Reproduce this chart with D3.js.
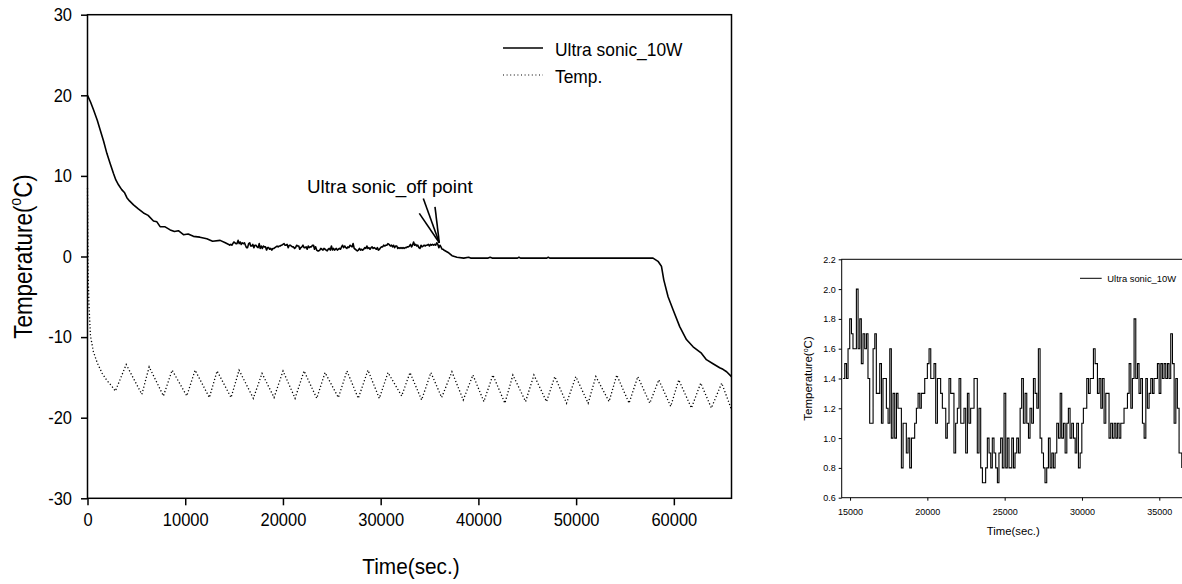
<!DOCTYPE html>
<html>
<head>
<meta charset="utf-8">
<script src="https://cdn.jsdelivr.net/npm/d3@7"></script>
<style>
body { margin: 0 ; background: #fff ; }
text { font-family: Arial, "Liberation Sans", Helvetica, sans-serif ; fill: #000 ; }
</style>
</head>
<body>
<svg id="chart" width="1182" height="584"></svg>
<script>
// ---- main chart, ultrasonic run (solid line), start of run ----
var earlyTime = [0, 300, 614, 1000, 1300, 1650, 1980, 2300, 2660, 2900,
	3170, 3500, 3800, 4030, 4300, 4710, 5200, 5730, 6200, 6750,
	7100, 7430, 7900, 8460, 8900, 9300, 9820, 10300, 10840, 11500,
	12210, 12800, 13570, 14100, 14450] ;
var earlyTemp = [20.0, 19.2, 18.2, 16.9, 15.7, 14.3, 12.8, 11.6, 10.3, 9.5,
	8.9, 8.3, 7.9, 7.3, 6.9, 6.4, 5.9, 5.4, 5.1, 4.4,
	4.3, 3.7, 3.7, 3.3, 3.1, 3.2, 2.7, 2.8, 2.5, 2.4,
	2.2, 1.9, 2.0, 1.7, 1.5] ;

// ---- zoomed window 14500..36500 s (also used inside the main line) ----
var insetTime = [
	14550, 14660, 14770, 14870, 14980, 15090, 15190, 15300, 15410, 15520,
	15630, 15730, 15840, 15950, 16060, 16160, 16270, 16380, 16490, 16600,
	16700, 16810, 16920, 17030, 17130, 17240, 17350, 17460, 17570, 17670,
	17780, 17890, 18000, 18100, 18210, 18320, 18430, 18540, 18640, 18750,
	18860, 18970, 19080, 19180, 19290, 19400, 19510, 19610, 19720, 19830,
	19890, 20000, 20110, 20220, 20320, 20430, 20540, 20650, 20750, 20860,
	20970, 21080, 21190, 21290, 21400, 21510, 21620, 21720, 21830, 21940,
	22050, 22160, 22260, 22370, 22480, 22590, 22690, 22800, 22910, 23020,
	23130, 23230, 23340, 23450, 23560, 23660, 23770, 23880, 23990, 24100,
	24200, 24310, 24420, 24530, 24630, 24740, 24850, 24960, 25070, 25170,
	25280,
	25460, 25570, 25670, 25780, 25890, 26000, 26100, 26210, 26320, 26430,
	26540, 26640, 26750, 26860, 26970, 27080, 27180, 27290, 27400, 27510,
	27610, 27720, 27830, 27940, 28050, 28150, 28260, 28370, 28480, 28590,
	28690, 28800, 28910, 29020, 29120, 29230, 29340, 29450, 29560, 29660,
	29770, 29880, 29990, 30090, 30200, 30310, 30420, 30530, 30630, 30740,
	30850,
	31000, 31110, 31220, 31320, 31430, 31540, 31650, 31750, 31860, 31970,
	32080, 32190, 32290, 32400, 32510, 32620, 32720, 32830, 32940, 33050,
	33160, 33260, 33370, 33480, 33590, 33690, 33800, 33910, 34020, 34130,
	34230, 34340, 34450, 34560, 34660, 34770, 34880, 34990, 35100, 35200,
	35310, 35420, 35530, 35630, 35740, 35850, 35960, 36070, 36170, 36280,
	36390, 36455] ;
var insetTemp = [
	1.4, 1.5, 1.4, 1.6, 1.8, 1.7, 1.6, 1.6, 2.0, 1.6,
	1.8, 1.5, 1.7, 1.6, 1.7, 1.4, 1.1, 1.1, 1.6, 1.7,
	1.3, 1.3, 1.5, 1.1, 1.4, 1.4, 1.2, 1.1, 1.6, 1.0,
	1.3, 1.0, 1.3, 1.2, 1.2, 0.8, 1.1, 1.1, 0.9, 1.0,
	0.8, 1.0, 1.0, 1.1, 1.2, 1.3, 1.2, 1.3, 1.3, 1.4,
	1.4, 1.5, 1.6, 1.4, 1.4, 1.5, 1.1, 1.4, 1.4, 1.3,
	1.2, 1.2, 1.0, 1.1, 1.4, 1.3, 1.3, 0.9, 1.1, 1.2,
	1.4, 1.1, 1.1, 1.2, 0.9, 1.3, 1.1, 1.2, 1.2, 1.4,
	1.4, 0.9, 1.2, 0.8, 0.7, 0.7, 0.8, 1.0, 0.9, 0.8,
	1.0, 0.9, 0.8, 0.7, 0.9, 1.0, 0.8, 1.3, 0.8, 1.0,
	0.8,
	1.0, 0.8, 0.9, 1.0, 0.9, 1.2, 1.4, 1.1, 1.3, 1.1,
	1.0, 1.2, 1.1, 1.4, 1.3, 1.2, 1.6, 1.0, 0.9, 0.8,
	0.7, 0.8, 1.0, 0.8, 0.9, 0.8, 0.9, 1.1, 1.0, 1.3,
	1.0, 1.1, 0.9, 1.1, 1.2, 1.0, 1.1, 1.0, 0.9, 1.1,
	0.8, 0.9, 1.1, 1.2, 1.2, 1.4, 1.3, 1.4, 1.4, 1.6,
	1.5,
	1.3, 1.4, 1.2, 1.4, 1.1, 1.3, 1.3, 1.0, 1.1, 1.0,
	1.1, 1.0, 1.1, 1.0, 1.1, 1.1, 1.2, 1.2, 1.3, 1.5,
	1.2, 1.4, 1.8, 1.4, 1.5, 1.3, 1.4, 1.1, 1.0, 1.4,
	1.2, 1.3, 1.4, 1.3, 1.4, 1.4, 1.5, 1.3, 1.5, 1.4,
	1.5, 1.4, 1.5, 1.4, 1.7, 1.5, 1.1, 1.4, 1.2, 0.9,
	0.9, 0.8] ;

// ---- main chart, after ultrasonic off ----
var lateTime = [36900, 37300, 37800, 38500, 39000, 39200, 41000, 41200, 41400, 44000,
	44150, 44300, 47000, 47150, 47300, 52000, 57870, 58380, 58730, 58970,
	59410, 59920, 60600, 61290, 61970, 62820, 63330, 64010, 64690, 65030,
	65400, 65900] ;
var lateTemp = [0.5, 0.1, -0.1, -0.2, -0.1, -0.2, -0.2, -0.1, -0.2, -0.2,
	-0.1, -0.2, -0.2, -0.1, -0.2, -0.2, -0.2, -0.6, -1.2, -2.9,
	-5.0, -6.6, -8.7, -10.3, -11.2, -12.0, -12.8, -13.3, -13.8, -14.0,
	-14.3, -14.9] ;

// ---- bath temperature (dotted) ----
var tempTime = [0, 60, 150, 300, 600, 1000, 1500, 2000, 2500, 2850,
	3960, 5560, 6310, 7770, 8660, 10160, 11010, 12470, 13260, 14690,
	15510, 16970, 17860, 19090, 20010, 21240, 22160, 23460, 24310, 25670,
	26550, 27710, 28700, 29860, 30750, 32150, 33000, 34190, 35140, 36240,
	37290, 38450, 39440, 40560, 41480, 42710, 43530, 44830, 45680, 46970,
	47820, 49020, 49970, 51230, 52020, 53370, 54160, 55420, 56310, 57540,
	58460, 59680, 60500, 61800, 62750, 63840, 64900, 65900] ;
var tempValue = [8.5, -2, -6, -9.8, -11.8, -13.2, -14.5, -15.4, -16.1, -16.7,
	-13.4, -17.1, -13.7, -17.3, -14.1, -17.3, -14.1, -17.5, -14.2, -17.5,
	-14.1, -17.6, -14.5, -17.5, -14.2, -17.6, -14.2, -17.6, -14.4, -17.5,
	-14.2, -17.6, -14.1, -17.6, -14.4, -17.3, -14.4, -17.8, -14.4, -17.5,
	-14.3, -17.8, -14.7, -18.0, -14.7, -18.2, -14.7, -18.0, -14.7, -18.0,
	-14.9, -18.2, -14.9, -18.2, -14.9, -18.0, -14.7, -18.2, -14.9, -18.2,
	-15.3, -18.6, -15.3, -18.8, -15.7, -18.8, -15.7, -19.0] ;

var mainXTicks = [0, 10000, 20000, 30000, 40000, 50000, 60000] ;
var mainYTicks = [-30, -20, -10, 0, 10, 20, 30] ;
var insetXTicks = [15000, 20000, 25000, 30000, 35000] ;
var insetYTicks = [0.6, 0.8, 1.0, 1.2, 1.4, 1.6, 1.8, 2.0, 2.2] ;
var legendLabels = ['Ultra sonic_10W', 'Temp.'] ;
var offPoint = [36000, 1.7] ;

var svg = d3.select('#chart') ;

function styleTicks(g, size, sy) {
	g.select('.domain').remove() ;
	g.selectAll('.tick line').attr('stroke', '#000') ;
	g.selectAll('.tick text').attr('font-size', size).attr('fill', '#000').attr('transform', 'scale(1,' + sy + ')') ;
}

// ================= main chart =================
var x = d3.scaleLinear().domain([0, 65900]).range([87.5, 731.5]) ;
var y = d3.scaleLinear().domain([-30, 30]).range([498.3, 14.7]) ;

var gx = svg.append('g').attr('transform', 'translate(0,' + y(-30) + ')')
	.call(d3.axisBottom(x).tickValues(mainXTicks).tickSize(7).tickPadding(6.5).tickFormat(function(d) { return String(d) ; })) ;
styleTicks(gx, 16.5, 1.1) ;
gx.selectAll('.tick line').attr('stroke-width', 1.5) ;

var gy = svg.append('g').attr('transform', 'translate(' + x(0) + ',0)')
	.call(d3.axisLeft(y).tickValues(mainYTicks).tickSize(6.5).tickPadding(9).tickFormat(function(d) { return String(d) ; })) ;
styleTicks(gy, 16.5, 1.1) ;
gy.selectAll('.tick line').attr('stroke-width', 1.5) ;

svg.append('rect')
	.attr('x', x(0)).attr('y', y(30))
	.attr('width', x(65900) - x(0)).attr('height', y(-30) - y(30))
	.attr('fill', 'none').attr('stroke', '#000').attr('stroke-width', 1.5) ;

var line = d3.line().x(function(d) { return x(d[0]) ; }).y(function(d) { return y(d[1]) ; }) ;

var sonic = d3.zip(earlyTime, earlyTemp).concat(d3.zip(insetTime, insetTemp)).concat(d3.zip(lateTime, lateTemp)) ;
svg.append('path').attr('d', line(sonic))
	.attr('fill', 'none').attr('stroke', '#000').attr('stroke-width', 1.6).attr('stroke-linejoin', 'round') ;

svg.append('path').attr('d', line(d3.zip(tempTime, tempValue)))
	.attr('fill', 'none').attr('stroke', '#000').attr('stroke-width', 1.3).attr('stroke-dasharray', '1.2,2.2') ;

// legend
var legY = [48, 75] ;
svg.append('line').attr('x1', 503).attr('x2', 543).attr('y1', legY[0]).attr('y2', legY[0])
	.attr('stroke', '#000').attr('stroke-width', 1.6) ;
svg.append('line').attr('x1', 503).attr('x2', 543).attr('y1', legY[1]).attr('y2', legY[1])
	.attr('stroke', '#000').attr('stroke-width', 1.2).attr('stroke-dasharray', '1,2.6') ;
for ( var i = 0 ; i < legendLabels.length ; ++i ) {
	svg.append('text').attr('transform', 'translate(555,' + (legY[i] + 8) + ') scale(1,1.07)')
		.attr('font-size', 17.4).text(legendLabels[i]) ;
}

// annotation
var tip = [x(offPoint[0]), y(offPoint[1])] ;
var barbs = [[-16, -44.4], [-4.3, -36], [-20, -29.4]] ;
for ( var i = 0 ; i < barbs.length ; ++i ) {
	svg.append('line').attr('x1', tip[0]).attr('y1', tip[1])
		.attr('x2', tip[0] + barbs[i][0]).attr('y2', tip[1] + barbs[i][1])
		.attr('stroke', '#000').attr('stroke-width', 1.6) ;
}
svg.append('text').attr('x', 307).attr('y', 193.3).attr('font-size', 18.8).text('Ultra sonic_off point') ;

// axis titles
svg.append('text').attr('transform', 'translate(' + ((x(0) + x(65900)) / 2 + 1.5) + ',573.5) scale(1,1.1)')
	.attr('text-anchor', 'middle').attr('font-size', 20.8).text('Time(sec.)') ;
var yt = svg.append('text').attr('transform', 'translate(31.7,' + ((y(30) + y(-30)) / 2) + ') rotate(-90) scale(1,1.14)')
	.attr('text-anchor', 'middle').attr('font-size', 22.4) ;
yt.append('tspan').text('Temperature(') ;
yt.append('tspan').attr('font-size', 14).attr('dy', -9).text('o') ;
yt.append('tspan').attr('dy', 9).text('C)') ;

// ================= zoomed chart =================
var ix = d3.scaleLinear().domain([14460, 36650]).range([841.7, 1184.8]) ;
var iy = d3.scaleLinear().domain([0.6, 2.2]).range([497.7, 259.3]) ;

var igx = svg.append('g').attr('transform', 'translate(0,' + iy(0.6) + ')')
	.call(d3.axisBottom(ix).tickValues(insetXTicks).tickSize(3).tickPadding(7.5).tickFormat(function(d) { return String(d) ; })) ;
styleTicks(igx, 9, 1.05) ;
var igy = svg.append('g').attr('transform', 'translate(' + ix(14460) + ',0)')
	.call(d3.axisLeft(iy).tickValues(insetYTicks).tickSize(3).tickPadding(3).tickFormat(function(d) { return d.toFixed(1) ; })) ;
styleTicks(igy, 9, 1.05) ;

svg.append('rect')
	.attr('x', ix(14460)).attr('y', iy(2.2))
	.attr('width', ix(36650) - ix(14460)).attr('height', iy(0.6) - iy(2.2))
	.attr('fill', 'none').attr('stroke', '#000').attr('stroke-width', 1) ;

// logged values are 0.1 degree steps, so draw as steps
var iline = d3.line().curve(d3.curveStepAfter).x(function(d) { return ix(d[0]) ; }).y(function(d) { return iy(d[1]) ; }) ;
svg.append('path').attr('d', iline(d3.zip(insetTime, insetTemp)))
	.attr('fill', 'none').attr('stroke', '#000').attr('stroke-width', 1.1) ;

svg.append('line').attr('x1', 1080).attr('x2', 1101.7).attr('y1', 278.3).attr('y2', 278.3)
	.attr('stroke', '#000').attr('stroke-width', 1) ;
svg.append('text').attr('x', 1107.3).attr('y', 281.5).attr('font-size', 9.4).text(legendLabels[0]) ;

svg.append('text').attr('x', (ix(14460) + ix(36650)) / 2).attr('y', 535)
	.attr('text-anchor', 'middle').attr('font-size', 11.3).text('Time(sec.)') ;
var iyt = svg.append('text').attr('transform', 'translate(812,' + ((iy(2.2) + iy(0.6)) / 2) + ') rotate(-90)')
	.attr('text-anchor', 'middle').attr('font-size', 11.5) ;
iyt.append('tspan').text('Temperature(') ;
iyt.append('tspan').attr('font-size', 7).attr('dy', -4.5).text('o') ;
iyt.append('tspan').attr('dy', 4.5).text('C)') ;
</script>
</body>
</html>
